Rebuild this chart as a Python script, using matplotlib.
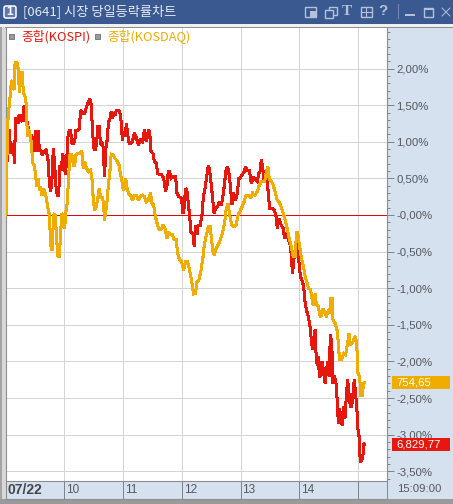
import matplotlib
matplotlib.use('Agg')
import matplotlib.pyplot as plt
from matplotlib.patches import Rectangle, FancyBboxPatch
from matplotlib.ticker import FixedLocator, FuncFormatter
from matplotlib.transforms import blended_transform_factory

# minutes after 09:00 and change in %
kospi_min = [0.5, 0.7, 2.0, 3.1, 4.1, 5.1, 6.1, 7.1, 8.1, 9.2, 10.2, 11.5, 12.9, 13.9, 15.3, 17.0, 19.0, 19.7, 21.0, 22.4,
             23.7, 25.1, 26.4, 27.8, 29.2, 30.5, 31.9, 33.2, 34.6, 35.9, 37.3, 39.3, 41.4, 43.4, 44.8, 46.1, 47.5, 48.8, 50.2, 51.5,
             52.9, 54.2, 55.6, 57.0, 58.3, 59.7, 61.0, 62.4, 63.7, 65.1, 66.4, 67.8, 69.2, 70.5, 71.9, 73.9, 75.3, 76.6, 78.7, 80.7,
             82.7, 84.8, 86.1, 87.5, 88.8, 90.2, 91.5, 92.9, 94.2, 95.6, 97.0, 98.3, 99.7, 101.0, 102.4, 103.7, 105.1, 106.4, 107.8, 109.2,
             110.5, 111.9, 113.2, 114.6, 116.6, 118.0, 119.3, 120.7, 122.0, 123.4, 124.8, 126.1, 127.5, 129.5, 131.5, 133.6, 135.6, 137.6, 139.7, 141.7,
             143.7, 145.8, 147.1, 148.5, 150.5, 151.9, 153.9, 155.3, 157.3, 159.3, 161.4, 163.4, 164.8, 166.1, 167.5, 168.8, 170.9, 173.6, 174.9, 177.0,
             179.7, 181.0, 182.4, 183.7, 185.1, 186.5, 187.8, 189.2, 191.2, 192.6, 193.9, 195.3, 196.6, 198.7, 200.7, 202.0, 203.4, 204.8, 206.8, 207.5,
             208.8, 210.2, 211.5, 212.9, 214.3, 216.3, 218.3, 220.4, 222.4, 223.7, 225.1, 226.5, 227.8, 229.2, 231.2, 232.6, 234.6, 236.6, 238.0, 239.3,
             241.4, 243.4, 244.8, 246.8, 248.8, 250.9, 252.9, 254.9, 257.0, 258.3, 259.7, 261.0, 262.4, 263.7, 265.1, 267.1, 268.5, 269.8, 271.9, 273.9,
             275.9, 277.3, 279.3, 281.4, 283.4, 284.8, 286.8, 288.8, 290.9, 292.9, 294.3, 296.3, 298.3, 299.7, 301.0, 303.1, 304.4, 305.8, 307.1, 309.1,
             310.5, 311.9, 313.2, 314.6, 315.9, 316.6, 318.0, 319.3, 320.3, 321.7, 323.0, 324.4, 326.1, 327.4, 328.8, 330.2, 331.5, 332.9, 334.2, 335.6,
             337.6, 338.6, 339.7, 341.0, 342.4, 343.7, 345.1, 346.4, 347.8, 349.1, 350.5, 351.9, 353.2, 354.6, 355.9, 357.3, 358.6, 359.3, 360.7, 362.0,
             363.4, 364.7, 365.4, 366.4]
kospi_pct = [0.00, 0.93, 0.73, 1.16, 1.16, 0.84, 0.98, 0.87, 0.93, 0.71, 1.32, 1.32, 1.25, 1.37, 1.30, 1.28, 1.50, 1.28, 1.34, 1.25,
             1.16, 1.07, 1.09, 0.98, 0.87, 1.16, 0.87, 1.16, 0.87, 0.89, 0.82, 0.87, 0.89, 0.75, 0.43, 0.32, 0.50, 0.91, 0.68, 0.39,
             0.27, 0.27, 0.68, 0.61, 0.84, 0.73, 0.55, 0.73, 1.07, 1.16, 1.16, 0.98, 0.98, 1.00, 1.16, 1.16, 1.18, 1.43, 1.39, 1.39,
             1.48, 1.55, 1.59, 1.50, 1.14, 0.91, 0.89, 0.96, 1.21, 1.21, 0.96, 1.00, 0.93, 0.52, 0.91, 1.02, 1.28, 1.30, 1.41, 1.32,
             1.39, 1.37, 1.43, 1.43, 1.41, 1.28, 1.02, 1.14, 1.07, 1.25, 1.09, 0.98, 0.98, 1.00, 1.12, 1.05, 0.96, 1.02, 1.00, 1.16,
             1.00, 1.16, 1.14, 0.87, 0.84, 0.73, 0.71, 0.57, 0.55, 0.55, 0.50, 0.32, 0.41, 0.59, 0.59, 0.50, 0.52, 0.52, 0.30, 0.25,
             0.23, 0.02, 0.11, 0.36, 0.34, 0.16, 0.00, -0.23, -0.25, -0.43, -0.14, -0.27, -0.14, -0.14, 0.02, 0.27, 0.34, 0.48, 0.66, 0.66,
             0.55, 0.39, 0.20, 0.02, 0.09, 0.11, 0.18, 0.14, 0.30, 0.46, 0.61, 0.66, 0.59, 0.43, 0.14, 0.30, 0.20, 0.30, 0.50, 0.50,
             0.55, 0.59, 0.66, 0.61, 0.61, 0.43, 0.52, 0.48, 0.46, 0.57, 0.59, 0.75, 0.66, 0.48, 0.50, 0.48, 0.23, 0.09, 0.09, 0.07,
             0.00, -0.18, -0.05, -0.14, -0.18, -0.32, -0.25, -0.34, -0.43, -0.80, -0.61, -0.39, -0.48, -0.68, -0.84, -0.91, -1.00, -1.21, -1.30, -1.39,
             -1.50, -1.68, -1.84, -1.71, -1.57, -1.84, -2.05, -1.94, -2.21, -2.19, -2.00, -2.12, -2.30, -2.14, -2.00, -2.21, -1.64, -1.75, -2.30, -2.19,
             -2.32, -2.57, -2.85, -2.64, -2.82, -2.87, -2.62, -2.78, -2.48, -2.25, -2.44, -2.62, -2.62, -2.44, -2.25, -2.44, -2.66, -2.89, -3.01, -3.37,
             -3.35, -3.30, -3.12, -3.14]

kosdaq_min = [0.5, 1.0, 2.0, 3.1, 4.4, 5.8, 6.8, 8.8, 9.8, 11.5, 12.9, 14.2, 15.6, 17.0, 18.3, 19.7, 21.0, 22.4, 23.7, 25.1,
              26.4, 27.8, 29.2, 30.5, 31.9, 33.2, 34.6, 35.9, 37.3, 38.6, 40.0, 41.4, 43.4, 44.8, 46.1, 47.5, 48.1, 49.5, 50.9, 52.2,
              53.6, 54.9, 56.3, 57.6, 59.0, 60.3, 61.7, 63.1, 64.4, 65.8, 67.8, 69.2, 70.5, 71.9, 73.9, 75.9, 78.0, 79.3, 80.7, 82.7,
              84.8, 86.8, 88.1, 89.5, 90.9, 92.2, 94.2, 95.6, 97.3, 99.0, 100.3, 101.0, 102.4, 103.7, 105.1, 106.4, 107.8, 109.8, 111.9, 113.9,
              115.9, 117.3, 118.7, 120.0, 121.4, 122.7, 124.1, 125.4, 127.5, 129.5, 131.5, 133.6, 135.6, 137.6, 139.7, 141.7, 143.7, 145.8, 147.8, 149.8,
              151.2, 152.6, 154.6, 156.6, 158.7, 160.7, 162.7, 164.8, 166.1, 168.1, 170.2, 172.2, 174.2, 175.6, 177.6, 179.7, 181.7, 183.7, 185.8, 187.8,
              189.8, 191.9, 193.9, 195.3, 197.3, 199.3, 201.4, 202.7, 204.1, 205.4, 206.8, 208.8, 210.2, 211.5, 212.9, 214.9, 217.6, 219.7, 221.7, 223.7,
              225.1, 227.1, 228.5, 229.8, 231.2, 233.2, 235.3, 237.3, 239.3, 241.4, 243.4, 245.4, 248.2, 250.2, 252.2, 254.3, 257.0, 259.0, 261.7, 264.4,
              266.5, 267.8, 269.2, 271.2, 273.2, 275.3, 277.3, 279.3, 281.4, 283.4, 285.4, 287.5, 289.5, 291.5, 293.6, 295.6, 297.0, 298.3, 299.7, 301.7,
              303.7, 305.8, 307.8, 309.1, 311.2, 312.5, 313.9, 315.2, 315.9, 317.3, 319.3, 320.7, 322.0, 324.1, 326.1, 327.4, 329.5, 330.8, 331.9, 333.2,
              334.2, 336.3, 338.3, 339.7, 340.7, 343.0, 345.1, 347.1, 349.1, 350.5, 351.9, 353.9, 355.9, 357.3, 358.6, 359.7, 361.3, 362.7, 364.1, 365.4,
              366.4]
kosdaq_pct = [0.00, 0.41, 1.21, 1.41, 1.57, 1.80, 1.84, 1.71, 2.09, 2.09, 2.00, 1.68, 1.94, 1.94, 1.66, 1.64, 1.53, 1.07, 1.16, 1.09,
              0.98, 0.71, 0.68, 0.57, 0.39, 0.50, 0.34, 0.39, 0.27, 0.36, 0.32, 0.25, 0.09, 0.00, -0.41, -0.48, -0.27, 0.01, 0.00, -0.34,
              -0.57, -0.57, -0.23, 0.02, 0.00, -0.18, 0.05, 0.18, 0.52, 0.82, 0.82, 0.68, 0.68, 0.82, 0.84, 0.84, 0.87, 0.64, 0.73, 0.64,
              0.59, 0.61, 0.52, 0.23, 0.07, 0.09, 0.23, 0.36, 0.23, 0.25, 0.11, -0.08, 0.07, 0.20, 0.43, 0.57, 0.83, 0.82, 0.77, 0.74,
              0.68, 0.55, 0.48, 0.35, 0.36, 0.50, 0.36, 0.30, 0.27, 0.20, 0.27, 0.27, 0.20, 0.25, 0.27, 0.25, 0.18, 0.20, 0.30, 0.14,
              0.14, 0.00, -0.11, -0.20, -0.20, -0.14, -0.18, -0.32, -0.23, -0.27, -0.27, -0.34, -0.34, -0.52, -0.61, -0.64, -0.75, -0.64, -0.64, -0.75,
              -0.89, -1.08, -1.07, -0.92, -0.89, -0.77, -0.59, -0.43, -0.32, -0.25, -0.16, -0.16, -0.32, -0.48, -0.55, -0.46, -0.39, -0.32, -0.23, -0.09,
              0.07, 0.16, 0.02, -0.07, -0.14, -0.16, -0.14, 0.00, 0.05, 0.11, 0.18, 0.27, 0.27, 0.23, 0.30, 0.27, 0.32, 0.41, 0.46, 0.46,
              0.61, 0.66, 0.48, 0.46, 0.41, 0.30, 0.20, 0.18, 0.11, 0.02, -0.07, -0.18, -0.32, -0.43, -0.57, -0.57, -0.23, -0.25, -0.39, -0.57,
              -0.68, -0.84, -0.93, -1.00, -1.02, -1.12, -1.23, -1.21, -1.07, -1.23, -1.25, -1.37, -1.39, -1.28, -1.34, -1.39, -1.30, -1.34, -1.14, -1.14,
              -1.43, -1.48, -1.57, -1.75, -1.97, -1.97, -1.89, -1.91, -1.75, -1.62, -1.78, -1.75, -1.68, -1.66, -1.82, -2.16, -2.21, -2.46, -2.46, -2.30,
              -2.29]

hour_ticks = [0, 60, 120, 180, 240, 300, 360]
hour_labels = ['07/22', '10', '11', '12', '13', '14', '']
pct_major = [2.0, 1.5, 1.0, 0.5, 0.0, -0.5, -1.0, -1.5, -2.0, -2.5, -3.0, -3.5]
pct_minor = [v / 10 for v in range(-36, 26)]
last_time = '15:09:00'
kospi_last = '6,829,77'
kosdaq_last = '754,65'

W, H = 453, 504
RED = '#E8170E'
ORANGE = '#F0AC00'
PANEL = '#D5E1EF'
TICK = '#80848A'
INK = '#55585E'
ICON = '#B4C1D8'
LABEL_FONT = 'Liberation Sans'
KR = ['Noto Sans CJK KR', 'DejaVu Sans']

fig = plt.figure(figsize=(W / 100, H / 100), dpi=100, facecolor='#F0F0F0')


def box(left, top, right, bottom):
    return [left / W, 1 - bottom / H, (right - left) / W, (bottom - top) / H]


# window chrome, in screen pixels
bg = fig.add_axes([0, 0, 1, 1])
bg.set_xlim(0, W)
bg.set_ylim(H, 0)
bg.axis('off')


def rect(x, y, w, h, fc='none', ec='none', lw=1.0):
    bg.add_patch(Rectangle((x, y), w, h, facecolor=fc, edgecolor=ec, linewidth=lw))


rect(0, 0, W, 23.5, fc='#3A5991')
rect(0, 27, 2, 477, fc='#A4A4A4')
rect(2, 27, 3.5, 477, fc='#D8D8D8')
rect(0, 499, W, 5, fc='#9A9A9A')
rect(387, 27, 66, 472, fc=PANEL)
rect(5, 27, 448, 1, fc='#8E8E8E')

bg.add_patch(FancyBboxPatch((4, 6), 12, 12, boxstyle='round,pad=0,rounding_size=2',
                            facecolor='#5C78AC', edgecolor='white', linewidth=1.1))
bg.text(10, 12, '1', color='white', ha='center', va='center', fontsize=8.5,
        fontweight='bold', family='Liberation Sans')
bg.text(23, 11.5, '[0641] 시장 당일등락률차트', color='#E4EAF4', ha='left', va='center',
        fontsize=9.5, family=KR)

# title bar buttons
rect(304.5, 6.5, 11, 10, ec=ICON)
rect(310, 11, 5.5, 5.5, fc=ICON)
rect(328.5, 6.5, 8, 8, ec=ICON)
rect(324.5, 9.5, 8, 8, fc='#3A5991', ec=ICON)
bg.text(347, 11.5, 'T', color=ICON, ha='center', va='center', fontsize=11,
        fontweight='bold', family='Liberation Serif')
rect(360.5, 6.5, 11, 10, ec=ICON)
bg.plot([366, 366], [6.5, 16.5], color=ICON, lw=0.8)
bg.plot([360.5, 371.5], [11.5, 11.5], color=ICON, lw=0.8)
bg.text(383, 11, '?', color=ICON, ha='center', va='center', fontsize=11,
        fontweight='bold', family='Liberation Sans')
bg.plot([397.5, 397.5], [4, 18], color='#7287B0', lw=0.8)
rect(405, 14, 10, 2, fc=ICON)
rect(423.5, 7.5, 9.5, 9.5, ec=ICON)
rect(423.5, 7.5, 9.5, 2, fc=ICON)
bg.plot([442, 450], [8, 16], color=ICON, lw=0.7)
bg.plot([442, 450], [16, 8], color=ICON, lw=0.7)

# plot area
ax = fig.add_axes(box(5.5, 27.5, 387, 481))
ax.set_facecolor('white')
ax.set_xlim(0, 389.3)
ax.set_ylim((215 - 481) / 73.2, (215 - 27.5) / 73.2)
ax.set_xticks(hour_ticks)
ax.tick_params(axis='x', length=0, labelbottom=False)
ax.yaxis.tick_right()
ax.yaxis.set_major_locator(FixedLocator(pct_major))
ax.yaxis.set_minor_locator(FixedLocator(pct_minor))


def pct_label(v, pos):
    s = f'{v:.2f}%'.replace('.', ',')
    return '-0,00%' if v == 0 else s


ax.yaxis.set_major_formatter(FuncFormatter(pct_label))
ax.tick_params(axis='y', which='major', length=5, width=0.72, color=TICK, pad=1.5,
               labelcolor=INK, labelsize=8.2)
ax.tick_params(axis='y', which='minor', length=2.4, width=0.72, color=TICK)
for label in ax.get_yticklabels():
    label.set_family(LABEL_FONT)
ax.grid(True, color='#D4D4D4', lw=0.72, antialiased=False)
ax.set_axisbelow(True)
for side in ['top', 'bottom']:
    ax.spines[side].set_visible(False)
ax.spines['left'].set_color('#8E8E8E')
ax.spines['right'].set_color('#8E8E8E')

ax.axhline(0, color='#E00808', lw=0.72, zorder=2, antialiased=False)
ax.plot(kospi_min, kospi_pct, color=RED, lw=1.45, antialiased=False, zorder=3,
        solid_joinstyle='miter')
ax.plot(kosdaq_min, kosdaq_pct, color=ORANGE, lw=1.45, antialiased=False, zorder=4,
        solid_joinstyle='miter')

# legend row
for x, name, color, tx in [(9, '종합(KOSPI)', RED, 21), (95, '종합(KOSDAQ)', ORANGE, 107)]:
    fig.add_artist(Rectangle((x / W, 1 - 38.5 / H), 5 / W, 5 / H, transform=fig.transFigure,
                             facecolor='#9A9A9A', edgecolor='#6E6E6E', linewidth=0.6, zorder=10))
    fig.text(tx / W, 1 - 36.5 / H, name, color=color, ha='left', va='center', fontsize=9.2,
             family=KR, zorder=10)

# time strip under the plot
strip = fig.add_axes(box(5.5, 481, 387, 499))
strip.set_facecolor(PANEL)
strip.set_xlim(ax.get_xlim())
strip.set_ylim(0, 1)
strip.set_yticks([])
strip.set_xticks(hour_ticks)
strip.tick_params(axis='x', direction='in', length=13, width=0.72, color=TICK, labelbottom=False)
for side in strip.spines:
    strip.spines[side].set_color('#8E8E8E')
for t, name in zip(hour_ticks, hour_labels):
    bold = t == 0
    strip.annotate(name, (t, 0.5), xytext=(1.2, 0), textcoords='offset points', ha='left', va='center',
                   color='#44474D' if bold else INK, fontsize=10 if bold else 8.5,
                   fontweight='bold' if bold else 'normal', family=LABEL_FONT)
fig.text(397 / W, 1 - 489.5 / H, last_time, color=INK, ha='left', va='center', fontsize=8.2, family=LABEL_FONT)

# last value tags sit on the closing level of each line
tag = blended_transform_factory(fig.transFigure, ax.transData)
for value, name, color in [(kosdaq_pct[-1], kosdaq_last, ORANGE), (kospi_pct[-1], kospi_last, RED)]:
    half = 6.5 / 73.2
    ax.add_patch(Rectangle((392 / W, value - half), 58 / W, 2 * half, transform=tag,
                           facecolor=color, edgecolor='none', clip_on=False, zorder=6))
    ax.text(396 / W, value, name, transform=tag, color='white', ha='left', va='center',
            fontsize=8.2, family=LABEL_FONT, clip_on=False, zorder=7)

fig.savefig('out.png', dpi=100)
